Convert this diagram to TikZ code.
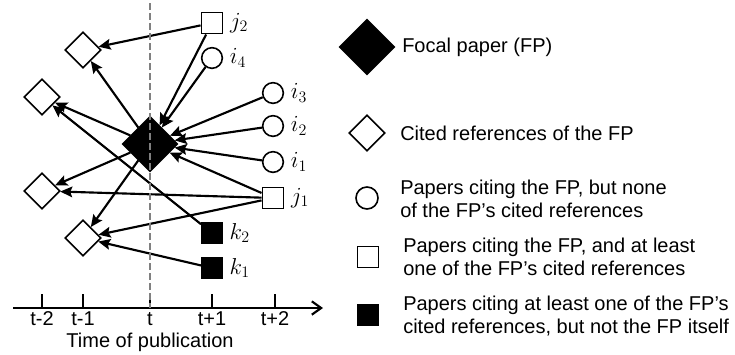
\documentclass[tikz,border=0pt]{standalone}
\usepackage{fontspec}
\setmainfont{Liberation Sans}
\usetikzlibrary{arrows.meta,shapes.geometric}

\begin{document}
\begin{tikzpicture}[x=0.75pt,y=0.75pt,yscale=-1,xscale=1,
  focal/.style={diamond,aspect=1,draw,fill=black,inner sep=0pt,minimum size=42pt},
  cited/.style={diamond,aspect=1,draw,fill=white,line width=1.2pt,inner sep=0pt,minimum size=27pt},
  citing/.style={circle,draw,fill=white,line width=1.2pt,inner sep=0pt,minimum size=15.5pt},
  both/.style={rectangle,draw,fill=white,line width=1.2pt,inner sep=0pt,minimum size=16pt},
  cocite/.style={rectangle,draw,fill=black,inner sep=0pt,minimum size=16pt},
  cite/.style={line width=1.6pt,-{Stealth[length=9pt,width=8pt,inset=1.5pt]}},
  txt/.style={font=\fontsize{15}{17.25}\selectfont,align=left,inner sep=0pt},
  lbl/.style={font=\fontsize{17}{19}\selectfont,label distance=1.5pt}
]
\useasboundingbox (0,0) rectangle (735,354);

%Papers of the network
\node [focal] (fp) at (150,144) {};
\node [cited] (ra) at (83,50) {};
\node [cited] (rb) at (42,97) {};
\node [cited] (rc) at (42,191) {};
\node [cited] (rd) at (83,238) {};
\node [both, label={[lbl]right:$j_2$}] (j2) at (212,23) {};
\node [citing, label={[lbl]right:$i_4$}] (i4) at (212,58) {};
\node [citing, label={[lbl]right:$i_3$}] (i3) at (273,93) {};
\node [citing, label={[lbl]right:$i_2$}] (i2) at (273,126) {};
\node [citing, label={[lbl]right:$i_1$}] (i1) at (273,162) {};
\node [both, label={[lbl]right:$j_1$}] (j1) at (273,198) {};
\node [cocite, label={[lbl]right:$k_2$}] (k2) at (212,233) {};
\node [cocite, label={[lbl]right:$k_1$}] (k1) at (212,268) {};

%Citations
\draw [cite] (j2) -- (ra);
\draw [cite] (j2) -- (fp);
\draw [cite] (i4) -- (fp);
\draw [cite] (i3) -- (fp);
\draw [cite] (i2) -- (fp);
\draw [cite] (i1) -- (fp);
\draw [cite] (j1) -- (fp);
\draw [cite] (j1) -- (rc);
\draw [cite] (j1) -- (rd);
\draw [cite] (k1) -- (rd);
\draw [cite] (k2) -- (rb);
\draw [cite] (fp) -- (ra);
\draw [cite] (fp) -- (rb);
\draw [cite] (fp) -- (rc);
\draw [cite] (fp) -- (rd);

%Time axis
\coordinate (axl) at (13,308);
\coordinate (axr) at (323,308);
\draw [line width=1.6pt,-{Straight Barb[length=7pt,width=10pt,line width=1.6pt]}] (axl) -- (axr);
\foreach \x/\t [count=\n] in {42/t-2,83/t-1,150/t,212/t+1,275/t+2} {
  \draw [line width=1.6pt] (\x,294) -- (\x,308);
  \node [txt] (tk\n) at (\x,319) {\t};
}
\node [txt] (axlbl) at (150,342.5) {Time of publication};

%Publication year of the FP
\coordinate (dtop) at (150,3);
\coordinate (dbot) at (150,308);
\draw [gray,line width=1pt,dash pattern=on 5pt off 2.5pt] (dtop) -- (dbot);

%Legend
\node [focal] (lfp) at (367,47) {};
\node [txt,anchor=west] (tfp) at (402,47) {Focal paper (FP)};
\node [cited] (lref) at (367,133) {};
\node [txt,anchor=west] (tref) at (400,133) {Cited references of the FP};
\node [citing,minimum size=16.5pt] (lcit) at (367,198) {};
\node [txt,anchor=west] (tcit) at (400,199) {Papers citing the FP, but none\\of the FP’s cited references};
\node [both] (lboth) at (368,257) {};
\node [txt,anchor=west] (tboth) at (403,257) {Papers citing the FP, and at least\\one of the FP’s cited references};
\node [cocite] (lco) at (368,315) {};
\node [txt,anchor=west] (tco) at (403,316) {Papers citing at least one of the FP’s\\cited references, but not the FP itself};

\end{tikzpicture}
\end{document}
